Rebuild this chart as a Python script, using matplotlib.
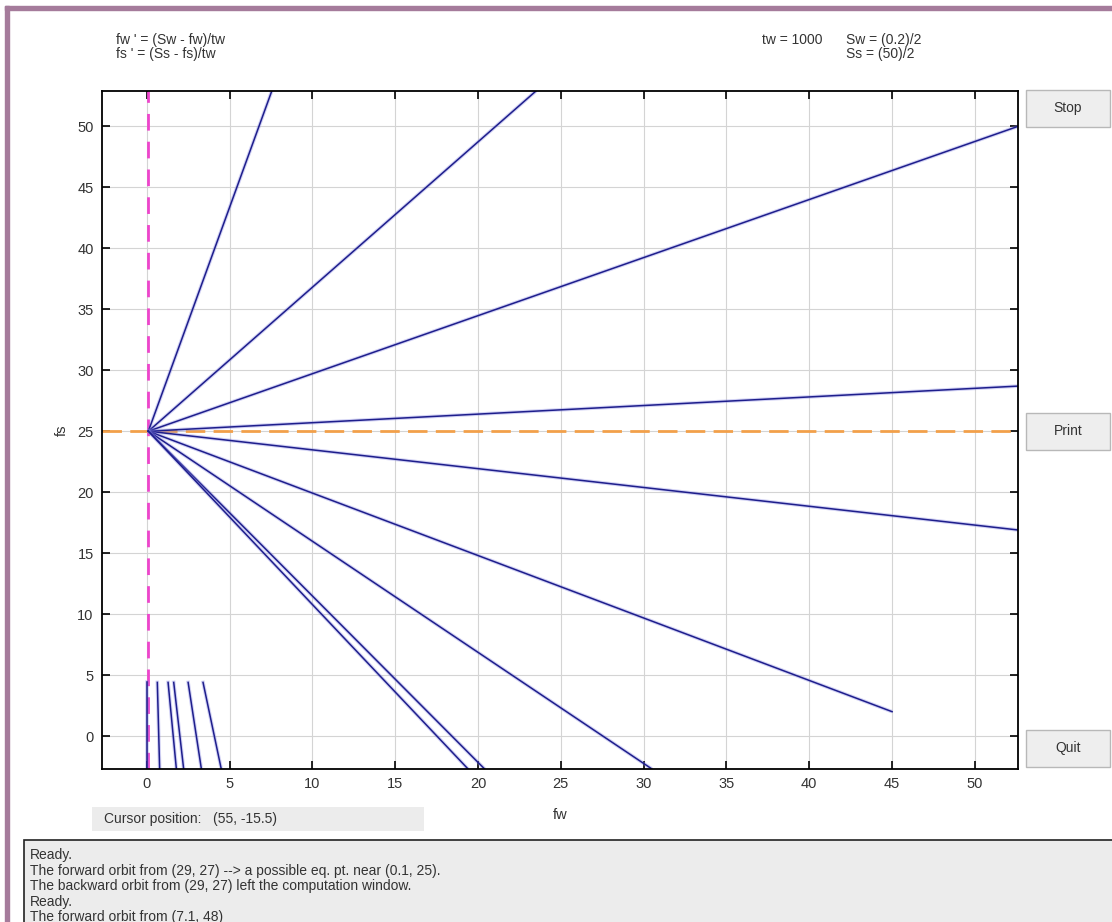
import numpy as np
import matplotlib
matplotlib.use("Agg")
import matplotlib.pyplot as plt
from matplotlib.patches import Rectangle

plt.rcParams['font.family'] = ['Liberation Sans', 'DejaVu Sans']

# equilibrium point the orbits run into
eq_fw, eq_fs = 0.1, 25

# far ends of the orbits (where they leave the window or were started)
orbit_fw = [7.55, 23.5, 52.6, 52.6, 52.6, 45.0, 30.5, 20.4, 19.4]
orbit_fs = [52.9, 52.9, 50.0, 28.7, 16.9, 2.0, -2.7, -2.7, -2.7]

# short orbit pieces near the bottom left corner
seg_fw_top = [0.0, 0.64, 1.29, 1.63, 2.5, 3.4]
seg_fw_bot = [0.0, 0.78, 1.79, 2.23, 3.3, 4.5]
seg_fs_top = 4.4
seg_fs_bot = -2.7

xticks = [0, 5, 10, 15, 20, 25, 30, 35, 40, 45, 50]
yticks = [0, 5, 10, 15, 20, 25, 30, 35, 40, 45, 50]

messages = [
    "Ready.",
    "The forward orbit from (29, 27) --> a possible eq. pt. near (0.1, 25).",
    "The backward orbit from (29, 27) left the computation window.",
    "Ready.",
    "The forward orbit from (7.1, 48)",
]

W, H = 1112, 922
fig = plt.figure(figsize=(W / 100, H / 100), dpi=100, facecolor='white')

def px(x, y, w, h):
    # pixel box -> figure fraction
    return [x / W, 1 - (y + h) / H, w / W, h / H]

txt = '#333333'

# window frame
fig.patches.append(Rectangle((5 / W, 0), 4 / W, 1 - 6 / H, transform=fig.transFigure,
                             color='#a57b9b', zorder=0))
fig.patches.append(Rectangle((5 / W, 1 - 10 / H), 1, 4 / H, transform=fig.transFigure,
                             color='#a57b9b', zorder=0))

ax = fig.add_axes(px(102, 91, 916, 678))
for fw, fs in zip(orbit_fw, orbit_fs):
    ax.plot([eq_fw, fw], [eq_fs, fs], color='#8080e0', lw=2.6, alpha=0.35, solid_capstyle='butt')
    ax.plot([eq_fw, fw], [eq_fs, fs], color='#1e1e8c', lw=1.1)
for a, b in zip(seg_fw_top, seg_fw_bot):
    ax.plot([a, b], [seg_fs_top, seg_fs_bot], color='#8080e0', lw=2.6, alpha=0.35)
    ax.plot([a, b], [seg_fs_top, seg_fs_bot], color='#1e1e8c', lw=1.1)

ax.axvline(eq_fw, color='#ee44cc', lw=2, dashes=(6, 4), zorder=1)
ax.axhline(eq_fs, color='#f2a04a', lw=2, dashes=(7, 3), zorder=1)

ax.set_xlim(-2.7, 52.6)
ax.set_ylim(-2.7, 52.9)
ax.set_xticks(xticks)
ax.set_yticks(yticks)
ax.grid(True, color='#d4d4d4', lw=0.8)
ax.set_axisbelow(True)
ax.tick_params(direction='in', length=6, width=1.2, top=True, right=True,
               labelsize=10.5, labelcolor=txt, pad=6)
for s in ax.spines.values():
    s.set_linewidth(1.3)
ax.set_xlabel('fw', fontsize=10.5, color=txt, labelpad=12)
ax.set_ylabel('fs', fontsize=10.5, color=txt, labelpad=6)

# equations and parameters
fs_top = 10
fig.text(116 / W, 1 - 40 / H, "fw ' = (Sw - fw)/tw", fontsize=fs_top, color=txt, va='center')
fig.text(116 / W, 1 - 54 / H, "fs ' = (Ss - fs)/tw", fontsize=fs_top, color=txt, va='center')
fig.text(762 / W, 1 - 40 / H, "tw = 1000", fontsize=fs_top, color=txt, va='center')
fig.text(846 / W, 1 - 40 / H, "Sw = (0.2)/2", fontsize=fs_top, color=txt, va='center')
fig.text(846 / W, 1 - 54 / H, "Ss = (50)/2", fontsize=fs_top, color=txt, va='center')

# buttons
for label, y in [("Stop", 90), ("Print", 413), ("Quit", 730)]:
    fig.patches.append(Rectangle((1026 / W, 1 - (y + 37) / H), 84 / W, 37 / H,
                                 transform=fig.transFigure, facecolor='#eeeeee',
                                 edgecolor='#b8b8b8', lw=1))
    fig.text(1068 / W, 1 - (y + 18) / H, label, fontsize=10, color=txt,
             ha='center', va='center')

# cursor position box
fig.patches.append(Rectangle((92 / W, 1 - 831 / H), 332 / W, 24 / H, transform=fig.transFigure,
                             facecolor='#ececec', edgecolor='none'))
fig.text(104 / W, 1 - 819 / H, "Cursor position:   (55, -15.5)", fontsize=10,
         color=txt, va='center')

# message box
fig.patches.append(Rectangle((24 / W, -0.05), 1, 1 - 840 / H + 0.05, transform=fig.transFigure,
                             facecolor='#ececec', edgecolor='#222222', lw=1.2))
for i, msg in enumerate(messages):
    fig.text(30 / W, 1 - (855 + i * 15.5) / H, msg, fontsize=10, color=txt, va='center')

fig.savefig('out.png', dpi=100, facecolor=fig.get_facecolor())
